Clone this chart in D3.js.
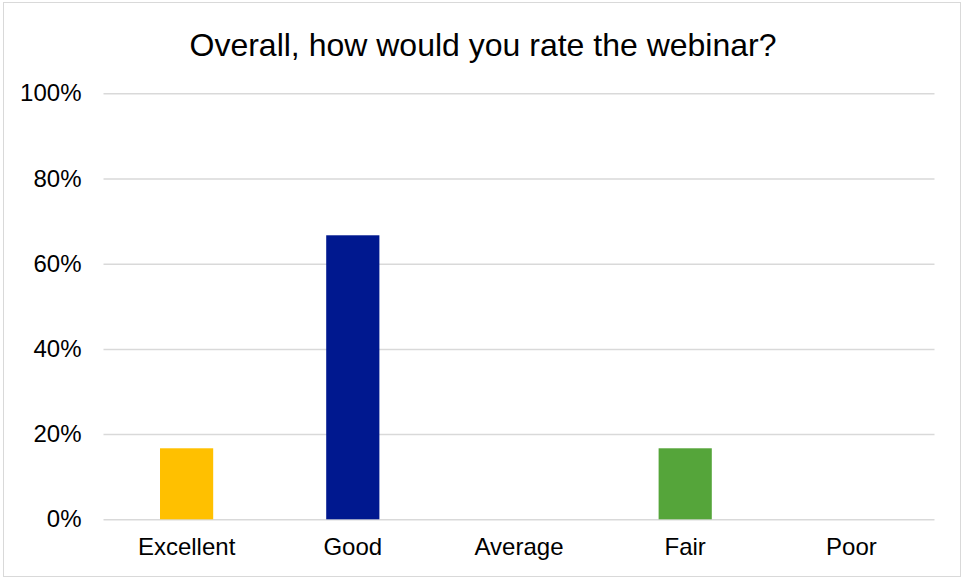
<!DOCTYPE html>
<html><head><meta charset="utf-8">
<script src="https://cdn.jsdelivr.net/npm/d3@7"></script>
<style>body{margin:0;background:#fff}svg{display:block;font-family:"Liberation Sans",Arial,sans-serif}</style>
</head><body><svg id="c" width="963" height="578"></svg>
<script>
const title = "Overall, how would you rate the webinar?";
const categories = ["Excellent","Good","Average","Fair","Poor"];
const values = [0.1667, 0.6667, 0, 0.1667, 0];
const colors = ["#FFC000","#00188F","#A5A5A5","#55A53A","#5B9BD5"];
const yTicks = [0,0.2,0.4,0.6,0.8,1.0];

const svg = d3.select("#c");
svg.append("rect").attr("x",3.5).attr("y",2.5).attr("width",957).attr("height",574)
  .attr("fill","#fff").attr("stroke","#d9d9d9").attr("stroke-width",1);

const x = d3.scaleBand().domain(categories).range([103.5,934.5]).paddingInner(0.68).paddingOuter(0.34);
const y = d3.scaleLinear().domain([0,1]).range([519.3,93.3]);

svg.append("text").attr("x",483).attr("y",56).attr("text-anchor","middle")
  .attr("font-size",32).attr("fill","#000").text(title);

const yAxis = svg.append("g").attr("transform","translate(103.5,0)")
  .call(d3.axisLeft(y).tickValues(yTicks).tickFormat(d3.format(".0%")).tickSize(-831).tickPadding(22));
yAxis.select(".domain").remove();
yAxis.selectAll("line").attr("stroke","#d9d9d9").attr("stroke-width",1.5);
yAxis.selectAll("text").attr("font-size",24).attr("fill","#000").attr("font-family","Liberation Sans, Arial, sans-serif");

svg.selectAll("rect.bar").data(categories).enter().append("rect").attr("class","bar")
  .attr("x",d=>x(d)).attr("width",x.bandwidth())
  .attr("y",(d,i)=>y(values[i])).attr("height",(d,i)=>y(0)-y(values[i]))
  .attr("fill",(d,i)=>colors[i]);

const xAxis = svg.append("g").attr("transform","translate(0,519.3)")
  .call(d3.axisBottom(x).tickSize(0).tickPadding(19));
xAxis.select(".domain").remove();
xAxis.selectAll("text").attr("font-size",24).attr("fill","#000").attr("font-family","Liberation Sans, Arial, sans-serif");
</script></body></html>
